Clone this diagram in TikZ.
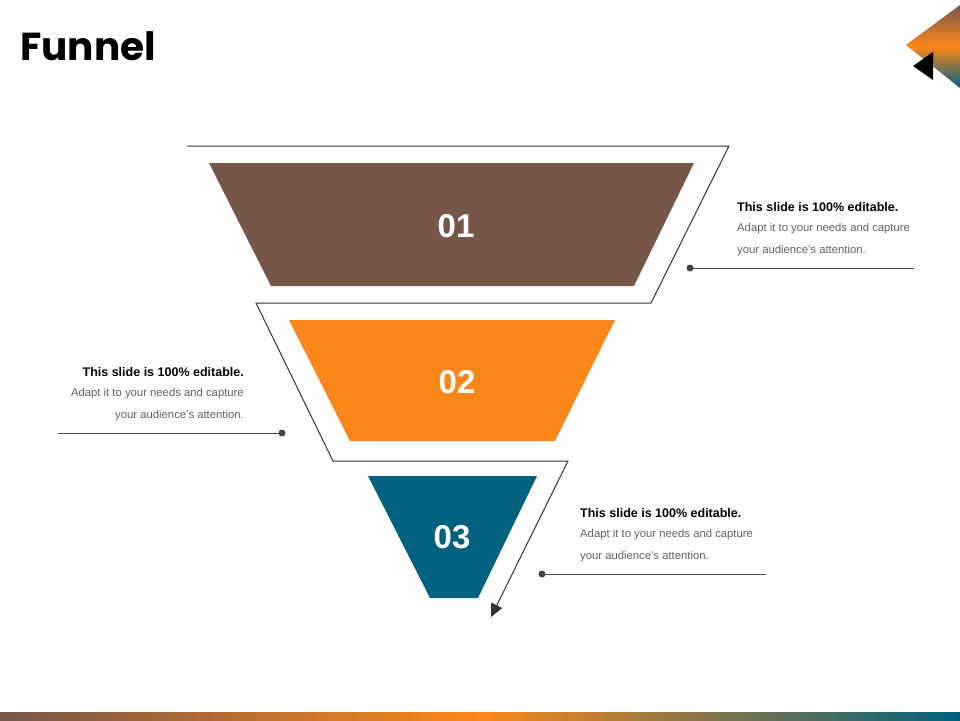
\documentclass[tikz,border=0pt]{standalone}
\usepackage{fontspec}
\setmainfont{Liberation Sans}
\newfontfamily\titlefont{Poppins}
\usetikzlibrary{arrows.meta}
\definecolor{cbrown}{HTML}{76574A}
\definecolor{corange}{HTML}{FC8719}
\definecolor{cteal}{HTML}{00627F}
\definecolor{cgrey}{HTML}{606060}
\begin{document}
\begin{tikzpicture}[x=1pt,y=-1pt,
  num/.style={font=\bfseries\fontsize{33}{38}\selectfont, text=white},
  hd/.style={font=\bfseries\fontsize{12.5}{14}\selectfont, inner sep=0},
  bd/.style={font=\fontsize{11.3}{14}\selectfont, text=cgrey, inner sep=0},
  rule/.style={draw=cgrey!80!black, line width=0.8pt}]
\useasboundingbox (0,0) rectangle (960,720);
\node[anchor=west,font=\titlefont\bfseries\fontsize{39}{44}\selectfont,inner sep=0] (title) at (20,46) {Funnel};
% corner
\shade[top color=cbrown, bottom color=cteal, middle color=corange] (906,45) -- (960,5) -- (960,88) -- cycle;
\fill[black] (913,66) -- (933,52) -- (933,80) -- cycle;
% bottom bar
\shade[left color=cbrown, right color=cteal, middle color=corange] (0,712) rectangle (960,720);
% funnel outline
\coordinate (s) at (187,146);
\coordinate (e) at (491,617);
\draw[line width=1pt, draw=black!80, -{Triangle[length=13pt,width=12pt]}] (s) -- (729,146) -- (651,303) -- (256,303) -- (333,461) -- (568,461) -- (e);
% shapes
\fill[cbrown] (209,163) -- (694,163) -- (634,286) -- (271,286) -- cycle;
\fill[corange] (289,320) -- (615,320) -- (555,441) -- (350,441) -- cycle;
\fill[cteal] (368,476) -- (537,476) -- (478,598) -- (430,598) -- cycle;
\node[num] (n1) at (456,226) {01};
\node[num] (n2) at (457,382) {02};
\node[num] (n3) at (452,537) {03};
% text 1
\node[hd,anchor=west] (h1) at (737,207) {This slide is 100\% editable.};
\node[bd,anchor=west] (b1a) at (737,229) {Adapt it to your needs and capture};
\node[bd,anchor=west] (b1b) at (737,251) {your audience's attention.};
\coordinate (d1) at (690,268); \coordinate (l1) at (914,268);
\fill[cgrey!70!black] (d1) circle (3.5);
\draw[rule] (d1) -- (l1);
% text 2
\node[hd,anchor=east] (h2) at (244,372) {This slide is 100\% editable.};
\node[bd,anchor=east] (b2a) at (244,394) {Adapt it to your needs and capture};
\node[bd,anchor=east] (b2b) at (244,416) {your audience's attention.};
\coordinate (d2) at (282,433); \coordinate (l2) at (58,433);
\fill[cgrey!70!black] (d2) circle (3.5);
\draw[rule] (d2) -- (l2);
% text 3
\node[hd,anchor=west] (h3) at (580,513) {This slide is 100\% editable.};
\node[bd,anchor=west] (b3a) at (580,535) {Adapt it to your needs and capture};
\node[bd,anchor=west] (b3b) at (580,557) {your audience's attention.};
\coordinate (d3) at (542,574); \coordinate (l3) at (766,574);
\fill[cgrey!70!black] (d3) circle (3.5);
\draw[rule] (d3) -- (l3);
\end{tikzpicture}
\end{document}
